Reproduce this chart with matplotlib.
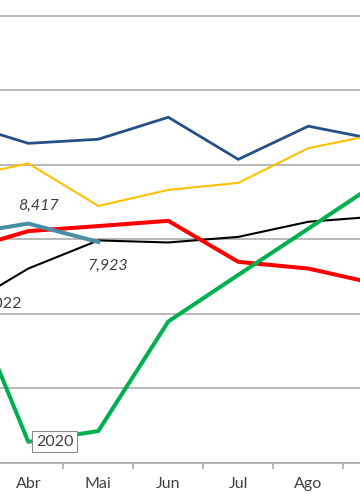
import matplotlib.pyplot as plt
import numpy as np

# months visible in the (cropped) chart window
months = ['Mar', 'Abr', 'Mai', 'Jun', 'Jul', 'Ago', 'Set']

# values
serie_azul = [11150, 10570, 10680, 11270, 10140, 11030, 10660]
serie_amarela = [9630, 10030, 8890, 9320, 9510, 10440, 10820]
serie_2022 = [6090, 7210, 7965, 7910, 8060, 8465, 8610]
serie_vermelha = [7660, 8215, 8350, 8490, 7390, 7210, 6790]
serie_2020 = [7150, 2560, 2850, 5790, 7040, 8280, 9530]
serie_atual = [8110, 8417, 7923]

plt.rcParams['font.family'] = ['Lato', 'DejaVu Sans']

fig = plt.figure(figsize=(3.6, 5.04), dpi=100)
ax = fig.add_axes([0, 0.0819, 1, 0.9181])

x = np.arange(len(months))

ax.plot(x, serie_azul, color='#255086', lw=2.0)
ax.plot(x, serie_amarela, color='#FFC000', lw=1.5)
ax.plot(x, serie_2022, color='#000000', lw=1.5)
ax.plot(x, serie_vermelha, color='#FF0000', lw=2.9)
ax.plot(x, serie_2020, color='#00B050', lw=2.9)
ax.plot(x[:len(serie_atual)], serie_atual, color='#4A8DA6', lw=2.9)

# data labels
lbl = dict(fontsize=11.5, color='#404040', textcoords='offset points', va='center')
ax.annotate(f"{serie_atual[1]:,}", (x[1], serie_atual[1]), xytext=(7, 12.5),
            ha='center', style='italic', **lbl)
ax.annotate(f"{serie_atual[2]:,}", (x[2], serie_atual[2]), xytext=(7, -17.3),
            ha='center', style='italic', **lbl)
# cut by the left edge, as in the original
ax.annotate("2022", (x[1], serie_2022[1]), xytext=(-4.5, -25.5), ha='right', **lbl)
ax.annotate("2020", (x[1], serie_2020[1]), xytext=(19, 0), ha='center',
            bbox=dict(boxstyle='square,pad=0.22', fc='white', ec='#8C8C8C', lw=0.8),
            arrowprops=dict(arrowstyle='-', color='#8C8C8C', lw=0.8, shrinkA=0, shrinkB=0),
            **lbl)

ax.set_yticks(np.arange(2000, 14001, 2000))
ax.yaxis.grid(True, color='#A6A6A6', lw=1.1)
ax.set_axisbelow(True)
ax.tick_params(axis='y', left=False, labelleft=False)

# first and last month fall outside the cropped window
ax.set_xticks(x)
ax.set_xticklabels([''] + months[1:-1] + [''])
ax.set_xticks(x[:-1] + 0.5, minor=True)
ax.tick_params(axis='x', which='major', length=0, pad=10, labelsize=11.5, labelcolor='#404040')
ax.tick_params(axis='x', which='minor', length=4, width=1.1, color='#A6A6A6')

ax.set_xlim(1 - 28.3 / 70, 1 + 331.7 / 70)
ax.set_ylim(2000, 14416)

for s in ['left', 'right', 'top']:
    ax.spines[s].set_visible(False)
ax.spines['bottom'].set_color('#A6A6A6')
ax.spines['bottom'].set_linewidth(1.1)

fig.savefig('out.png', dpi=100)
